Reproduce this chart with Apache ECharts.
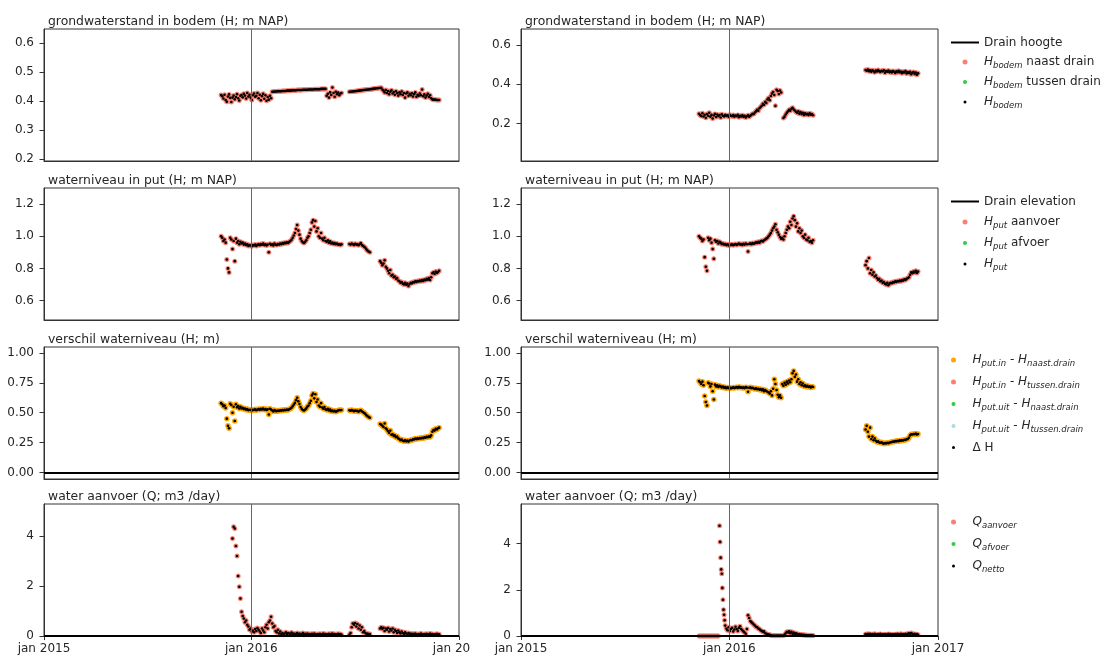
<!DOCTYPE html>
<html>
<head>
<meta charset="utf-8">
<script src="https://cdn.jsdelivr.net/npm/echarts@6/dist/echarts.min.js"></script>
<style>
  html, body { margin: 0; padding: 0; background: #fff; }
  #main { width: 1109px; height: 659px; }
</style>
</head>
<body>
<div id="main"></div>
<script>
// all series share one date grid: every 2 days from 7 nov 2015 (null = no measurement)
const startDate = '2015-11-07';
const stepDays = 2;

const bodemLeft = [
  null, 0.421, 0.417, 0.409, 0.422, 0.404, 0.398, 0.416, 0.423, 0.411,
  0.397, 0.412, 0.419, 0.406, 0.414, 0.424, 0.41, 0.402, 0.418, 0.421,
  0.413, 0.425, 0.419, 0.409, 0.428, 0.416, 0.422, 0.412, 0.404, 0.42,
  0.426, 0.415, 0.418, 0.428, 0.41, 0.422, 0.403, 0.417, 0.425, 0.408,
  0.42, 0.401, 0.414, 0.405, 0.418, 0.41, 0.432, 0.432, 0.433, 0.433,
  0.433, 0.434, 0.434, 0.434, 0.434, 0.435, 0.435, 0.435, 0.435, 0.436,
  0.436, 0.436, 0.436, 0.437, 0.437, 0.437, 0.437, 0.437, 0.438, 0.438,
  0.438, 0.438, 0.438, 0.439, 0.439, 0.439, 0.439, 0.439, 0.44, 0.44,
  0.44, 0.44, 0.44, 0.441, 0.441, 0.441, 0.441, 0.441, 0.441, 0.442,
  0.442, 0.442, 0.442, 0.442, 0.418, 0.425, 0.412, 0.43, 0.421, 0.447,
  0.428, 0.415, 0.432, 0.424, 0.429, 0.42, 0.426, 0.428, null, null,
  null, null, null, null, 0.432, 0.432, 0.433, 0.433, 0.434, 0.434,
  0.435, 0.435, 0.436, 0.436, 0.437, 0.437, 0.438, 0.438, 0.439, 0.439,
  0.44, 0.44, 0.441, 0.441, 0.442, 0.442, 0.443, 0.443, 0.444, 0.444,
  0.445, 0.445, 0.446, 0.44, 0.436, 0.43, 0.438, 0.428, 0.435, 0.424,
  0.432, 0.437, 0.426, 0.431, 0.422, 0.434, 0.427, 0.419, 0.43, 0.424,
  0.433, 0.421, 0.428, 0.412, 0.426, 0.43, 0.418, 0.425, 0.42, 0.427,
  0.416, 0.424, 0.43, 0.415, 0.422, 0.418, 0.426, 0.42, 0.44, 0.417,
  0.423, 0.412, 0.419, 0.425, 0.414, 0.42, 0.41, 0.406, 0.405, 0.405,
  0.405, 0.404, 0.404, 0.404, null
];

const bodemRight = [
  null, 0.25, 0.243, 0.238, 0.252, 0.236, 0.245, 0.229, 0.248, 0.24,
  0.255, 0.235, 0.244, 0.226, 0.241, 0.249, 0.233, 0.246, 0.238, 0.243,
  0.231, 0.247, 0.24, 0.236, 0.244, 0.239, 0.242, 0.234, 0.245, 0.24,
  0.237, 0.243, 0.235, 0.241, 0.238, 0.244, 0.232, 0.24, 0.236, 0.242,
  0.234, 0.239, 0.231, 0.237, 0.242, 0.235, 0.24, 0.245, 0.25, 0.248,
  0.256, 0.262, 0.27, 0.265, 0.278, 0.284, 0.29, 0.3, 0.295, 0.31,
  0.305, 0.322, 0.33, 0.318, 0.34, 0.352, 0.36, 0.345, 0.29, 0.372,
  0.365, 0.35, 0.368, 0.358, null, 0.228, 0.235, 0.246, 0.255, 0.262,
  0.27, 0.265, 0.275, 0.28, 0.272, 0.266, 0.26, 0.255, 0.262, 0.25,
  0.258, 0.248, 0.255, 0.244, 0.252, 0.246, 0.25, 0.243, 0.252, 0.245,
  0.248, 0.242, null, null, null, null, null, null, null, null,
  null, null, null, null, null, null, null, null, null, null,
  null, null, null, null, null, null, null, null, null, null,
  null, null, null, null, null, null, null, null, null, null,
  null, null, null, null, null, null, null, 0.472, 0.468, 0.474,
  0.466, 0.47, 0.463, 0.471, 0.467, 0.46, 0.469, 0.464, 0.472, 0.466,
  0.462, 0.468, 0.465, 0.47, 0.458, 0.466, 0.463, 0.469, 0.461, 0.465,
  0.459, 0.467, 0.463, 0.457, 0.465, 0.461, 0.468, 0.46, 0.464, 0.456,
  0.463, 0.459, 0.466, 0.454, 0.461, 0.457, 0.463, 0.45, 0.458, 0.462,
  0.452, 0.459, 0.448, 0.455, null
];

const putLeft = [
  null, 1.0, 0.99, 0.97, 0.98, 0.96, 0.855, 0.8, 0.775, 0.99,
  0.98, 0.92, 0.97, 0.845, 0.985, 0.96, 0.97, 0.95, 0.965, 0.955,
  0.96, 0.948, 0.955, 0.945, 0.95, 0.94, 0.945, 0.942, 0.938, 0.945,
  0.943, 0.948, 0.94, 0.946, 0.95, 0.944, 0.952, 0.947, 0.955, 0.945,
  0.95, 0.942, 0.948, 0.9, 0.953, 0.946, 0.95, 0.943, 0.955, 0.948,
  0.945, 0.952, 0.948, 0.955, 0.95, 0.958, 0.953, 0.96, 0.956, 0.962,
  0.958, 0.965, 0.97, 0.978, 0.99, 1.005, 1.02, 1.045, 1.07, 1.035,
  1.01, 0.985, 0.97, 0.962, 0.958, 0.965, 0.975, 0.99, 1.0, 1.02,
  1.04, 1.085, 1.1, 1.06, 1.095, 1.03, 1.05, 1.0, 0.99, 1.02,
  0.985, 0.975, 0.99, 0.97, 0.965, 0.975, 0.96, 0.968, 0.955, 0.96,
  0.952, 0.958, 0.95, 0.955, 0.948, 0.95, 0.946, 0.95, null, null,
  null, null, null, null, 0.952, 0.948, 0.955, 0.95, 0.946, 0.953,
  0.948, 0.95, 0.944, 0.952, 0.957, 0.945, 0.94, 0.935, 0.928, 0.918,
  0.91, 0.905, 0.9, null, null, null, null, null, null, null,
  null, 0.845, 0.835, 0.82, 0.83, 0.85, 0.81, 0.8, 0.785, 0.77,
  0.79, 0.755, 0.76, 0.745, 0.75, 0.735, 0.74, 0.725, 0.72, 0.71,
  0.715, 0.705, 0.7, 0.71, 0.698, 0.705, 0.69, 0.703, 0.71, 0.707,
  0.715, 0.712, 0.72, 0.716, 0.722, 0.718, 0.725, 0.72, 0.728, 0.722,
  0.73, 0.726, 0.735, 0.73, 0.74, 0.728, 0.745, 0.77, 0.775, 0.765,
  0.78, 0.772, 0.778, 0.785, null
];

const putRight = [
  null, 1.0, 0.99, 0.985, 0.97, 0.98, 0.87, 0.81, 0.785, 0.99,
  0.975, 0.985, 0.96, 0.92, 0.86, 0.975, 0.965, 0.97, 0.955, 0.965,
  0.96, 0.95, 0.955, 0.948, 0.952, 0.945, 0.95, 0.943, 0.948, 0.945,
  0.95, 0.944, 0.948, 0.952, 0.946, 0.95, 0.955, 0.948, 0.952, 0.946,
  0.953, 0.948, 0.955, 0.95, 0.905, 0.952, 0.956, 0.95, 0.958, 0.953,
  0.957, 0.962, 0.958, 0.965, 0.96, 0.968, 0.972, 0.968, 0.975, 0.98,
  0.985, 0.99, 1.0, 1.01, 1.02, 1.035, 1.05, 1.06, 1.075, 1.04,
  1.025, 1.01, 0.995, 0.985, 0.99, 0.98, 1.0, 1.02, 1.04, 1.06,
  1.05, 1.09, 1.07, 1.11, 1.125, 1.1, 1.06, 1.08, 1.03, 1.05,
  1.02, 1.035, 1.0, 0.99, 1.01, 0.98, 0.975, 0.99, 0.965, 0.97,
  0.96, 0.975, null, null, null, null, null, null, null, null,
  null, null, null, null, null, null, null, null, null, null,
  null, null, null, null, null, null, null, null, null, null,
  null, null, null, null, null, null, null, null, null, null,
  null, null, null, null, null, null, null, 0.82, 0.845, 0.8,
  0.865, 0.77, 0.79, 0.76, 0.775, 0.75, 0.755, 0.74, 0.73, 0.735,
  0.72, 0.725, 0.71, 0.715, 0.705, 0.7, 0.71, 0.695, 0.705, 0.71,
  0.708, 0.715, 0.712, 0.72, 0.715, 0.722, 0.718, 0.725, 0.72, 0.728,
  0.724, 0.732, 0.728, 0.735, 0.74, 0.745, 0.76, 0.775, 0.77, 0.78,
  0.775, 0.785, 0.772, 0.78, null
];

const diffLeft = [
  null, 0.58, 0.57, 0.555, 0.56, 0.54, 0.45, 0.39, 0.37, 0.575,
  0.565, 0.5, 0.55, 0.43, 0.57, 0.545, 0.555, 0.535, 0.55, 0.535,
  0.54, 0.53, 0.535, 0.525, 0.53, 0.52, 0.525, 0.522, 0.518, 0.525,
  0.522, 0.528, 0.52, 0.526, 0.53, 0.524, 0.532, 0.527, 0.535, 0.525,
  0.53, 0.522, 0.528, 0.485, 0.533, 0.526, 0.518, 0.511, 0.522, 0.515,
  0.512, 0.518, 0.514, 0.521, 0.516, 0.523, 0.518, 0.525, 0.521, 0.526,
  0.522, 0.529, 0.534, 0.541, 0.553, 0.568, 0.582, 0.605, 0.625, 0.595,
  0.572, 0.548, 0.532, 0.523, 0.519, 0.526, 0.536, 0.551, 0.56, 0.58,
  0.6, 0.645, 0.66, 0.62, 0.655, 0.59, 0.61, 0.56, 0.55, 0.58,
  0.543, 0.534, 0.548, 0.528, 0.523, 0.533, 0.518, 0.526, 0.513, 0.518,
  0.51, 0.516, 0.508, 0.513, 0.519, 0.522, 0.52, 0.522, null, null,
  null, null, null, null, 0.52, 0.516, 0.523, 0.518, 0.512, 0.519,
  0.514, 0.516, 0.508, 0.516, 0.52, 0.51, 0.505, 0.498, 0.49, 0.478,
  0.47, 0.463, 0.458, null, null, null, null, null, null, null,
  null, 0.405, 0.4, 0.39, 0.38, 0.41, 0.37, 0.36, 0.345, 0.33,
  0.35, 0.315, 0.32, 0.305, 0.31, 0.295, 0.3, 0.285, 0.28, 0.27,
  0.275, 0.265, 0.262, 0.27, 0.26, 0.266, 0.258, 0.267, 0.272, 0.27,
  0.278, 0.276, 0.283, 0.279, 0.285, 0.281, 0.288, 0.284, 0.29, 0.286,
  0.294, 0.29, 0.298, 0.295, 0.302, 0.296, 0.31, 0.34, 0.355, 0.35,
  0.365, 0.36, 0.37, 0.375, null
];

const diffRight = [
  null, 0.765, 0.755, 0.74, 0.76, 0.73, 0.64, 0.59, 0.56, 0.75,
  0.745, 0.72, 0.74, 0.68, 0.61, 0.735, 0.72, 0.73, 0.715, 0.725,
  0.72, 0.712, 0.718, 0.708, 0.714, 0.705, 0.712, 0.706, 0.71, 0.704,
  0.708, 0.712, 0.706, 0.71, 0.714, 0.708, 0.716, 0.71, 0.713, 0.707,
  0.712, 0.706, 0.714, 0.71, 0.675, 0.708, 0.713, 0.705, 0.709, 0.702,
  0.698, 0.704, 0.696, 0.7, 0.692, 0.698, 0.688, 0.695, 0.68, 0.69,
  0.682, 0.675, 0.67, 0.66, 0.68, 0.645, 0.7, 0.78, 0.74, 0.69,
  0.65, 0.63, 0.645, 0.625, 0.74, 0.725, 0.75, 0.735, 0.76, 0.745,
  0.77, 0.755, 0.78, 0.83, 0.85, 0.8, 0.82, 0.76, 0.78, 0.74,
  0.755, 0.73, 0.745, 0.722, 0.73, 0.718, 0.725, 0.715, 0.72, 0.712,
  0.718, 0.715, null, null, null, null, null, null, null, null,
  null, null, null, null, null, null, null, null, null, null,
  null, null, null, null, null, null, null, null, null, null,
  null, null, null, null, null, null, null, null, null, null,
  null, null, null, null, null, null, null, 0.36, 0.39, 0.34,
  0.3, 0.375, 0.28, 0.3, 0.27, 0.285, 0.265, 0.255, 0.26, 0.25,
  0.248, 0.252, 0.245, 0.24, 0.246, 0.242, 0.248, 0.244, 0.25, 0.252,
  0.255, 0.258, 0.256, 0.262, 0.26, 0.265, 0.262, 0.268, 0.266, 0.27,
  0.268, 0.274, 0.272, 0.278, 0.28, 0.29, 0.31, 0.32, 0.318, 0.322,
  0.32, 0.325, 0.318, 0.322, null
];

const qLeft = [
  null, null, null, null, null, null, null, null, null, null,
  null, 3.9, 4.37, 4.3, 3.6, 3.2, 2.4, 1.97, 1.5, 0.97,
  0.8, 0.7, 0.55, 0.62, 0.45, 0.38, 0.25, 0.3, 0.18, 0.22,
  0.15, 0.28, 0.2, 0.32, 0.25, 0.18, 0.12, 0.3, 0.22, 0.15,
  0.35, 0.45, 0.3, 0.55, 0.62, 0.77, 0.5, 0.35, 0.4, 0.2,
  0.15, 0.25, 0.1, 0.18, 0.08, 0.12, 0.05, 0.1, 0.15, 0.08,
  0.12, 0.1, 0.06, 0.14, 0.08, 0.1, 0.05, 0.09, 0.12, 0.07,
  0.1, 0.06, 0.08, 0.12, 0.05, 0.09, 0.07, 0.1, 0.06, 0.08,
  0.05, 0.09, 0.06, 0.1, 0.07, 0.05, 0.08, 0.06, 0.09, 0.05,
  0.07, 0.1, 0.06, 0.08, 0.05, 0.07, 0.09, 0.06, 0.08, 0.1,
  0.06, 0.08, 0.05, 0.07, 0.09, 0.06, 0.08, 0.05, null, null,
  null, null, null, null, 0.05, 0.12, 0.35, 0.5, 0.45, 0.52,
  0.38, 0.48, 0.3, 0.42, 0.25, 0.35, 0.15, 0.2, 0.12, 0.08,
  0.1, 0.06, 0.08, null, null, null, null, null, null, null,
  null, 0.3, 0.35, 0.28, 0.33, 0.2, 0.3, 0.25, 0.32, 0.18,
  0.28, 0.22, 0.3, 0.15, 0.25, 0.2, 0.12, 0.22, 0.15, 0.1,
  0.18, 0.12, 0.08, 0.15, 0.1, 0.06, 0.12, 0.08, 0.1, 0.05,
  0.09, 0.06, 0.1, 0.07, 0.05, 0.08, 0.06, 0.1, 0.07, 0.05,
  0.08, 0.06, 0.09, 0.05, 0.07, 0.1, 0.06, 0.08, 0.05, 0.07,
  0.06, 0.09, 0.05, 0.07, null
];

const qRight = [
  null, 0, 0, 0, 0, 0, 0, 0, 0, 0,
  0, 0, 0, 0, 0, 0, 0, 0, 0, null,
  null, null, null, null, 0.45, 0.32, 0.25, 0.38, 0.22, 0.3,
  0.35, 0.2, 0.28, 0.4, 0.3, 0.22, 0.35, 0.42, 0.3, 0.25,
  0.2, 0.15, 0.1, 0.3, 0.9, 0.78, 0.65, 0.6, 0.55, 0.5,
  0.45, 0.4, 0.38, 0.32, 0.3, 0.25, 0.22, 0.18, 0.2, 0.12,
  0.1, 0.08, 0.06, 0.05, 0.03, 0.02, 0.01, 0.02, 0.01, 0.02,
  0.01, 0.02, 0.01, 0.02, 0.01, 0.02, 0.05, 0.12, 0.18, 0.15,
  0.2, 0.12, 0.18, 0.1, 0.15, 0.08, 0.12, 0.1, 0.06, 0.08,
  0.05, 0.06, 0.04, 0.05, 0.03, 0.04, 0.02, 0.03, 0.02, 0.03,
  0.02, 0.02, null, null, null, null, null, null, null, null,
  null, null, null, null, null, null, null, null, null, null,
  null, null, null, null, null, null, null, null, null, null,
  null, null, null, null, null, null, null, null, null, null,
  null, null, null, null, null, null, null, 0.08, 0.06, 0.1,
  0.07, 0.09, 0.05, 0.08, 0.06, 0.1, 0.07, 0.05, 0.08, 0.06,
  0.09, 0.05, 0.07, 0.06, 0.08, 0.05, 0.07, 0.09, 0.06, 0.08,
  0.05, 0.07, 0.06, 0.08, 0.05, 0.09, 0.06, 0.07, 0.1, 0.06,
  0.08, 0.05, 0.09, 0.07, 0.1, 0.12, 0.08, 0.13, 0.1, 0.07,
  0.09, 0.06, 0.08, 0.05, null
];

// the right-hand flush peak is measured daily
const qRightPeakDates = ['2015-12-15', '2015-12-16', '2015-12-17', '2015-12-18', '2015-12-19',
  '2015-12-20', '2015-12-21', '2015-12-22', '2015-12-23', '2015-12-24'];
const qRightPeak = [4.77, 4.07, 3.39, 2.88, 2.69, 2.08, 1.57, 1.14, 0.92, 0.68];

const xTicks = ['2015-01-01', '2016-01-01', '2017-01-01'];
const markDate = '2016-01-01';
const yTicksL1 = [0.2, 0.3, 0.4, 0.5, 0.6];
const yTicksR1 = [0.2, 0.4, 0.6];
const yTicks2 = [0.6, 0.8, 1.0, 1.2];
const yTicks3 = [0, 0.25, 0.5, 0.75, 1.0];
const yTicks4 = [0, 2, 4];

const titles = ['grondwaterstand in bodem (H; m NAP)', 'waterniveau in put (H; m NAP)',
  'verschil waterniveau (H; m)', 'water aanvoer (Q; m3 /day)'];

const legendRows = [
  ['Drain hoogte', 'H_bodem naast drain', 'H_bodem tussen drain', 'H_bodem'],
  ['Drain elevation', 'H_put aanvoer', 'H_put afvoer', 'H_put'],
  ['H_put.in - H_naast.drain', 'H_put.in - H_tussen.drain', 'H_put.uit - H_naast.drain', 'H_put.uit - H_tussen.drain', 'Δ H'],
  ['Q_aanvoer', 'Q_afvoer', 'Q_netto']
];

const legendText = {
  'H_bodem naast drain': '{i|H}{s|bodem} naast drain',
  'H_bodem tussen drain': '{i|H}{s|bodem} tussen drain',
  'H_bodem': '{i|H}{s|bodem}',
  'H_put aanvoer': '{i|H}{s|put} aanvoer',
  'H_put afvoer': '{i|H}{s|put} afvoer',
  'H_put': '{i|H}{s|put}',
  'H_put.in - H_naast.drain': '{i|H}{s|put.in} - {i|H}{s|naast.drain}',
  'H_put.in - H_tussen.drain': '{i|H}{s|put.in} - {i|H}{s|tussen.drain}',
  'H_put.uit - H_naast.drain': '{i|H}{s|put.uit} - {i|H}{s|naast.drain}',
  'H_put.uit - H_tussen.drain': '{i|H}{s|put.uit} - {i|H}{s|tussen.drain}',
  'Q_aanvoer': '{i|Q}{s|aanvoer}',
  'Q_afvoer': '{i|Q}{s|afvoer}',
  'Q_netto': '{i|Q}{s|netto}'
};

const FONT = 'DejaVu Sans';
const INK = '#262626';
const SALMON = '#fa8072', GREEN = '#2ecc40', LIGHTBLUE = '#add8e6', ORANGE = '#ffa500';

// legend icons: a plain line for the drain level, a small dot for the black markers
const LINE_ICON = 'path://M0,0H28V2H0Z';
const SMALL_DOT = 'path://M0,0M10,10M8,5A3,3,0,1,1,2,5A3,3,0,1,1,8,5Z';
const MID_DOT = 'path://M0,0M10,10M9,5A4,4,0,1,1,1,5A4,4,0,1,1,9,5Z';
const blackItems = ['H_bodem', 'H_put', 'Δ H', 'Q_netto'];
const greenItems = ['H_bodem tussen drain', 'H_put afvoer', 'H_put.uit - H_naast.drain', 'Q_afvoer', 'H_put.uit - H_tussen.drain'];

function ts(s) {
  const p = s.split('-');
  return Date.UTC(+p[0], +p[1] - 1, +p[2]);
}
const t0 = ts(startDate);
const DAY = 86400000;

function points(values) {
  const out = [];
  values.forEach((v, i) => { if (v !== null) out.push([t0 + i * stepDays * DAY, v]); });
  return out;
}

var myChart = echarts.init(document.getElementById('main'));

const colLeft = [44, 521];
const colWidth = [415, 417];
const rowTop = [29, 188, 347, 504];
const rowH = 132;
const yRange = [
  [[0.194, 0.648], [0.01, 0.68]],
  [[0.479, 1.30], [0.479, 1.30]],
  [[-0.055, 1.05], [-0.055, 1.05]],
  [[0, 5.28], [0, 5.71]]
];
const yTickSets = [[yTicksL1, yTicksR1], [yTicks2, yTicks2], [yTicks3, yTicks3], [yTicks4, yTicks4]];
const yDecimals = [1, 1, 2, 0];

const grids = [], xAxes = [], yAxes = [], titleList = [], series = [];

for (let r = 0; r < 4; r++) {
  for (let c = 0; c < 2; c++) {
    const gi = r * 2 + c;
    grids.push({
      left: colLeft[c], top: rowTop[r], width: colWidth[c], height: rowH,
      show: true, borderColor: '#333', borderWidth: 1, backgroundColor: '#fff'
    });
    const bottomRow = r === 3;
    xAxes.push({
      type: 'value', gridIndex: gi, min: ts(xTicks[0]), max: ts(xTicks[2]),
      splitLine: { show: false },
      axisLine: { show: true, onZero: false, lineStyle: { color: '#333' } },
      axisTick: { show: bottomRow, length: 4, customValues: xTicks.map(ts), lineStyle: { color: '#333' } },
      axisLabel: {
        show: bottomRow, customValues: xTicks.map(ts), margin: 7,
        fontFamily: FONT, fontSize: 12, color: INK,
        formatter: v => {
          const y = new Date(v).getUTCFullYear();
          return (c === 0 && y === 2017) ? '{cut|jan 20}' : 'jan ' + y;
        },
        rich: { cut: { fontFamily: FONT, fontSize: 12, color: INK, padding: [0, 15, 0, 0] } }
      }
    });
    yAxes.push({
      type: 'value', gridIndex: gi, min: yRange[r][c][0], max: yRange[r][c][1],
      splitLine: { show: false },
      axisLine: { show: true, onZero: false, lineStyle: { color: '#333' } },
      axisTick: { show: true, length: 4.5, customValues: yTickSets[r][c], lineStyle: { color: '#333' } },
      axisLabel: {
        customValues: yTickSets[r][c], margin: 10,
        fontFamily: FONT, fontSize: 12, color: INK,
        formatter: v => Number(v).toFixed(yDecimals[r])
      }
    });
    titleList.push({
      text: titles[r], left: colLeft[c] + 4, top: rowTop[r] - 14, padding: 0,
      textStyle: { fontFamily: FONT, fontSize: 12.4, fontWeight: 'normal', color: INK, lineHeight: 14 }
    });
    // vertical line at jan 2016
    series.push({
      type: 'line', xAxisIndex: gi, yAxisIndex: gi, data: [], silent: true, z: 1,
      markLine: { silent: true, symbol: ['none', 'none'], label: { show: false }, animation: false,
        data: [{ xAxis: ts(markDate), lineStyle: { color: '#666', width: 1, type: 'solid' } }] }
    });
    // zero line in the lower two rows, drawn over the markers
    if (r >= 2) {
      series.push({
        type: 'line', xAxisIndex: gi, yAxisIndex: gi, data: [], silent: true, z: 5,
        markLine: { silent: true, symbol: ['none', 'none'], label: { show: false }, animation: false,
          data: [{ yAxis: 0, lineStyle: { color: '#000', width: 2, type: 'solid' } }] }
      });
    }
  }
}

function dots(name, gi, data, color, size, z) {
  return { name, type: 'scatter', xAxisIndex: gi, yAxisIndex: gi, data, symbol: 'circle',
    symbolSize: size, itemStyle: { color, opacity: 1 }, z, silent: true };
}
function drain(name, gi) {
  return { name, type: 'line', xAxisIndex: gi, yAxisIndex: gi, data: [], showSymbol: false, symbol: 'none',
    lineStyle: { color: '#000', width: 2 }, itemStyle: { color: '#000' } };
}

const rowData = [[bodemLeft, bodemRight], [putLeft, putRight], [diffLeft, diffRight], [qLeft, qRight]];

for (let c = 0; c < 2; c++) {
  // row 1: groundwater in soil
  let gi = c;
  series.push(drain('Drain hoogte', gi));
  series.push(dots('H_bodem naast drain', gi, points(rowData[0][c]), SALMON, 5, 2));
  series.push(dots('H_bodem tussen drain', gi, [], GREEN, 5, 2));
  series.push(dots('H_bodem', gi, points(rowData[0][c]), '#000', 2.6, 3));
  // row 2: water level in well
  gi = 2 + c;
  series.push(drain('Drain elevation', gi));
  series.push(dots('H_put aanvoer', gi, points(rowData[1][c]), SALMON, 5, 2));
  series.push(dots('H_put afvoer', gi, [], GREEN, 5, 2));
  series.push(dots('H_put', gi, points(rowData[1][c]), '#000', 2.6, 3));
  // row 3: level difference
  gi = 4 + c;
  series.push(dots('H_put.in - H_naast.drain', gi, points(rowData[2][c]), ORANGE, 5.5, 2));
  series.push(dots('H_put.in - H_tussen.drain', gi, [], SALMON, 5, 2));
  series.push(dots('H_put.uit - H_naast.drain', gi, [], GREEN, 5, 2));
  series.push(dots('H_put.uit - H_tussen.drain', gi, [], LIGHTBLUE, 5, 2));
  series.push(dots('Δ H', gi, points(rowData[2][c]), '#000', 2.6, 3));
  // row 4: supplied water
  gi = 6 + c;
  let q = points(rowData[3][c]);
  if (c === 1) q = q.concat(qRightPeakDates.map((d, k) => [ts(d), qRightPeak[k]]));
  series.push(dots('Q_aanvoer', gi, q, SALMON, 5, 2));
  series.push(dots('Q_afvoer', gi, [], GREEN, 5, 2));
  series.push(dots('Q_netto', gi, q, '#000', 2.6, 3));
}

function legendItem(name) {
  if (name.indexOf('Drain') === 0) return { name, icon: LINE_ICON };
  if (blackItems.indexOf(name) >= 0) return { name, icon: SMALL_DOT };
  if (greenItems.indexOf(name) >= 0) return { name, icon: MID_DOT };
  return { name, icon: 'circle' };
}

const legendTops = [35, 194, 352, 514];
const legendGaps = [4, 5, 6, 6];
const legends = legendRows.map((names, r) => ({
  orient: 'vertical', left: 951, top: legendTops[r], padding: 0,
  itemWidth: 28, itemHeight: 5, itemGap: legendGaps[r],
  data: names.map(legendItem), selectedMode: false,
  formatter: name => legendText[name] || name,
  textStyle: {
    fontFamily: FONT, fontSize: 12, color: INK, lineHeight: 15,
    rich: {
      i: { fontFamily: FONT, fontStyle: 'italic', fontSize: 12, color: INK, lineHeight: 15 },
      s: { fontFamily: FONT, fontStyle: 'italic', fontSize: 8.5, color: INK, lineHeight: 15, padding: [7, 0, 0, 0] }
    }
  }
}));

var option = {
  animation: false,
  backgroundColor: '#fff',
  textStyle: { fontFamily: FONT },
  title: titleList,
  legend: legends,
  grid: grids,
  xAxis: xAxes,
  yAxis: yAxes,
  series: series
};

myChart.setOption(option);
</script>
</body>
</html>
